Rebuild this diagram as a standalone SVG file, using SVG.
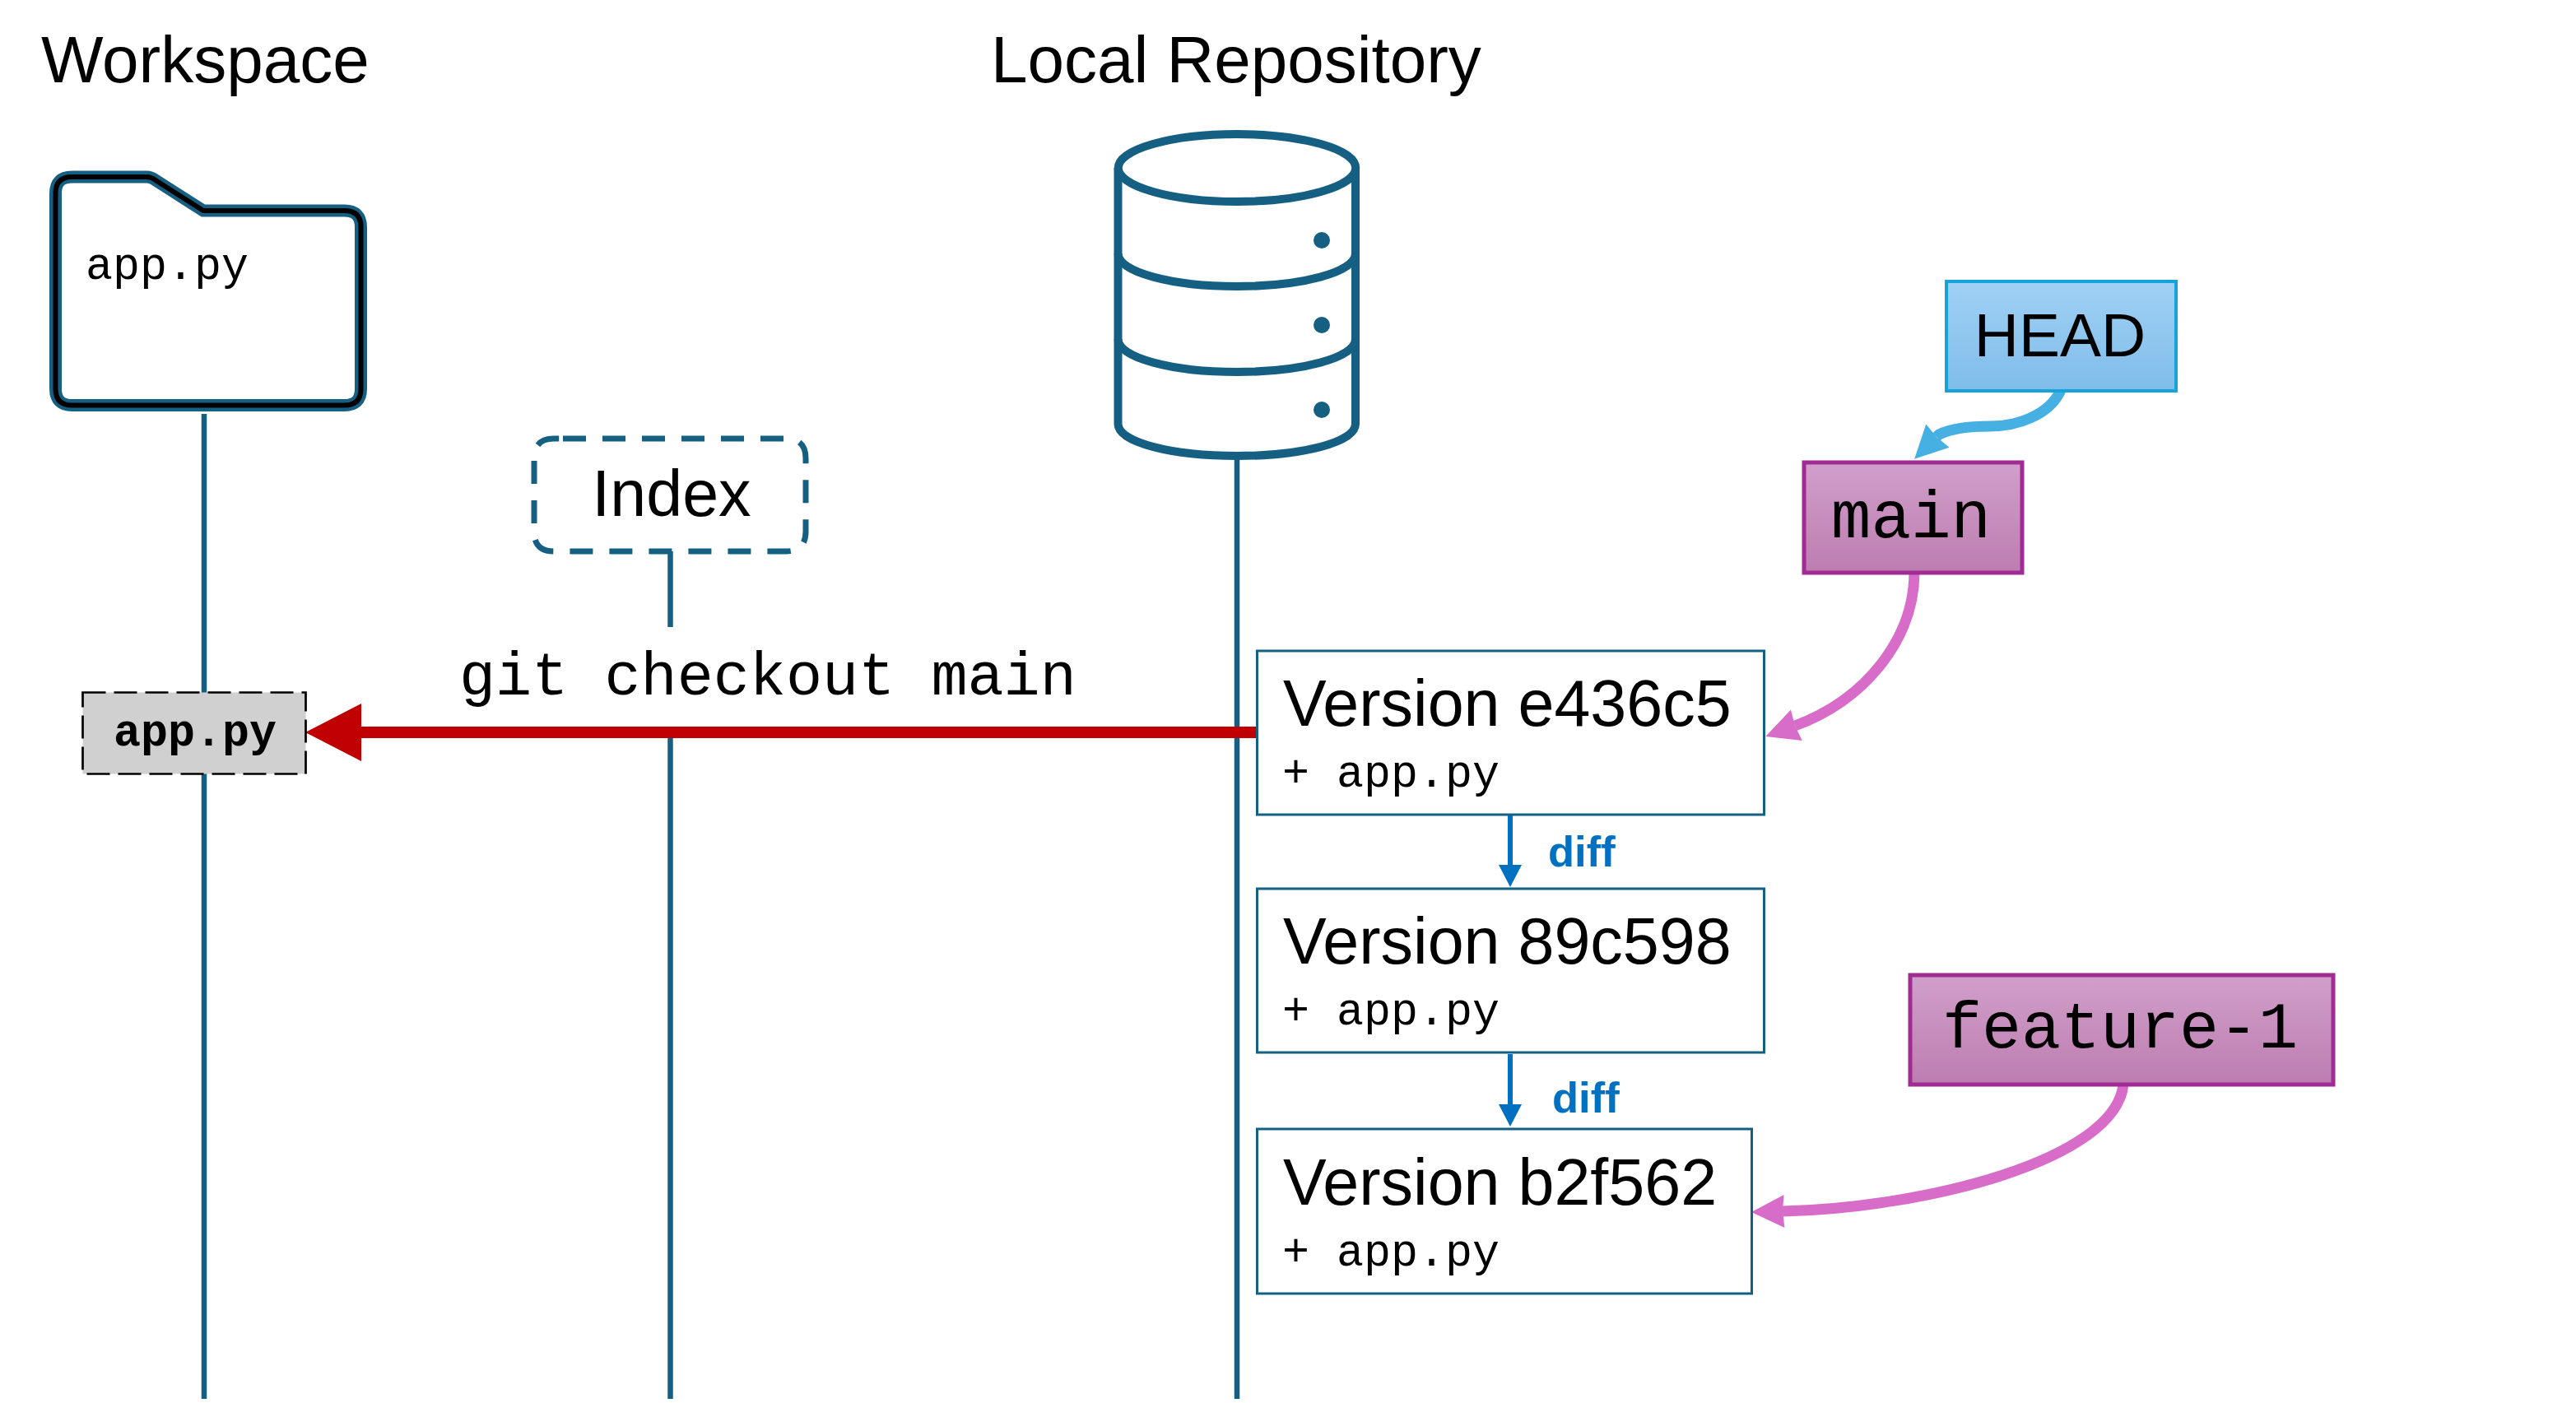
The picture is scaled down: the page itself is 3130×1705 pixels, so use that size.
<svg xmlns="http://www.w3.org/2000/svg" width="3130" height="1705" viewBox="0 0 3130 1705">
<defs>
<linearGradient id="blue" x1="0" y1="0" x2="0" y2="1"><stop offset="0" stop-color="#a0d0f4"/><stop offset="1" stop-color="#7fbde9"/></linearGradient>
<linearGradient id="purple" x1="0" y1="0" x2="0" y2="1"><stop offset="0" stop-color="#d0a0c9"/><stop offset="1" stop-color="#bd7cb0"/></linearGradient>
<marker id="mPink" markerUnits="userSpaceOnUse" markerWidth="42" markerHeight="42" refX="2" refY="20" orient="auto" overflow="visible"><path d="M0 0L40 20L0 40L2 20Z" fill="#d76dc9"/></marker>
<marker id="mCyan" markerUnits="userSpaceOnUse" markerWidth="42" markerHeight="42" refX="2" refY="20" orient="auto" overflow="visible"><path d="M0 0L40 20L0 40L2 20Z" fill="#45b0e1"/></marker>
<marker id="mDiff" markerUnits="userSpaceOnUse" markerWidth="30" markerHeight="30" refX="1" refY="14" orient="auto"><path d="M0 0L27 14L0 28Z" fill="#0070c0"/></marker>
<marker id="mRed" markerUnits="userSpaceOnUse" markerWidth="72" markerHeight="72" refX="1" refY="35" orient="auto"><path d="M0 0L68 35L0 70Z" fill="#c00000"/></marker>
<path id="folder-outline" d="M67.5 235Q67.5 215 87.5 215H178Q184 215 189 219L247 256H418.5Q438.5 256 438.5 276V472.5Q438.5 492.5 418.5 492.5H87.5Q67.5 492.5 67.5 472.5Z"/>
</defs>
<style>
text{font-family:"Liberation Sans",Arial,sans-serif;fill:#000}
.mono{font-family:"Liberation Mono","Courier New",monospace}
.life{stroke:#156082;stroke-width:6.5;fill:none}
.ver{fill:#fff;stroke:#156082;stroke-width:3}
.vt{font-size:79px}
.vs{font-size:55px}
.diff{font-size:52.5px;font-weight:700;fill:#0070c0}
.tag{fill:url(#purple);stroke:#a02b93;stroke-width:5}
.pink{stroke:#d76dc9;stroke-width:13;fill:none;marker-end:url(#mPink)}
.dar{stroke:#0070c0;stroke-width:6;fill:none;marker-end:url(#mDiff)}
</style>
<g id="connectors">
<path class="life" d="M248 503V1700"/>
<path class="life" d="M814.5 670V762"/>
<path class="life" d="M814.5 890V1700"/>
<path class="life" d="M1503 555V1700"/>
<path d="M1528 890H438" stroke="#c00000" stroke-width="14" fill="none" marker-end="url(#mRed)"/>
<path class="dar" d="M1835 991V1052"/>
<path class="dar" d="M1835 1281V1343"/>
<path d="M2504 474C2490 505 2450 518 2418 518C2390 518 2368 522 2356 528L2353 531" stroke="#45b0e1" stroke-width="13" fill="none" marker-end="url(#mCyan)"/>
<path class="pink" d="M2326 695C2326 775 2268 850 2181 882"/>
<path class="pink" d="M2580 1318C2570 1410 2338 1468 2166 1472"/>
</g>
<g id="workspace-title"><text x="50" y="100" font-size="80">Workspace</text></g>
<g id="repository-title"><text x="1204" y="100" font-size="80">Local Repository</text></g>
<g id="workspace">
<use href="#folder-outline" fill="#fff" stroke="#156082" stroke-width="15"/>
<use href="#folder-outline" fill="none" stroke="#000" stroke-width="6"/>
<text x="104" y="339" font-size="55" class="mono">app.py</text>
</g>
<g id="index">
<rect x="649" y="533" width="330" height="137" rx="24" fill="#fff"/>
<path d="M684 533H955Q979 533 979 557V646Q979 670 955 670H673Q649 670 649 646V557Q649 533 673 533H684" fill="none" stroke="#156082" stroke-width="7" stroke-dasharray="28 20"/>
<text x="816" y="627" font-size="79" text-anchor="middle">Index</text>
</g>
<g id="repository" fill="#fff" stroke="#156082" stroke-width="10">
<path d="M1358.5 204V515C1358.5 538 1425 554 1503 554S1647 538 1647 515V204"/>
<ellipse cx="1503" cy="204" rx="144.25" ry="41"/>
<path d="M1358.5 308C1358.5 331 1425 348 1503 348S1647 331 1647 308" fill="none"/>
<path d="M1358.5 412C1358.5 435 1425 452 1503 452S1647 435 1647 412" fill="none"/>
<circle cx="1606" cy="292" r="10" fill="#156082" stroke="none"/>
<circle cx="1606" cy="395" r="10" fill="#156082" stroke="none"/>
<circle cx="1606" cy="498" r="10" fill="#156082" stroke="none"/>
</g>
<g id="file-in-flight">
<rect x="100.5" y="841.5" width="271" height="99" fill="#d0d0d0" stroke="#000" stroke-width="2.7" stroke-dasharray="28 10"/>
<text x="237" y="906" font-size="55" font-weight="700" text-anchor="middle" class="mono">app.py</text>
</g>
<g id="checkout-label"><text x="558" y="844" font-size="73.5" class="mono">git checkout main</text></g>
<g id="v-e436c5">
<rect class="ver" x="1527.5" y="791" width="616" height="199"/>
<text class="vt" x="1559" y="882">Version e436c5</text>
<text class="vs mono" x="1558" y="956">+ app.py</text>
</g>
<g id="v-89c598">
<rect class="ver" x="1527.5" y="1080" width="616" height="199"/>
<text class="vt" x="1559" y="1171">Version 89c598</text>
<text class="vs mono" x="1558" y="1245">+ app.py</text>
</g>
<g id="v-b2f562">
<rect class="ver" x="1527.5" y="1372" width="601" height="200"/>
<text class="vt" x="1559" y="1464">Version b2f562</text>
<text class="vs mono" x="1558" y="1538">+ app.py</text>
</g>
<g id="diff-1"><text class="diff" x="1881" y="1053">diff</text></g>
<g id="diff-2"><text class="diff" x="1886" y="1352">diff</text></g>
<g id="head">
<rect x="2365" y="342" width="279" height="133" fill="url(#blue)" stroke="#16a3dc" stroke-width="4"/>
<text x="2503" y="433" font-size="75" text-anchor="middle">HEAD</text>
</g>
<g id="main">
<rect class="tag" x="2192" y="562" width="265" height="134"/>
<text x="2322" y="653" font-size="81" text-anchor="middle" class="mono">main</text>
</g>
<g id="feature-1">
<rect class="tag" x="2321" y="1185" width="514" height="133"/>
<text x="2576" y="1273" font-size="80" text-anchor="middle" class="mono">feature-1</text>
</g>
</svg>
